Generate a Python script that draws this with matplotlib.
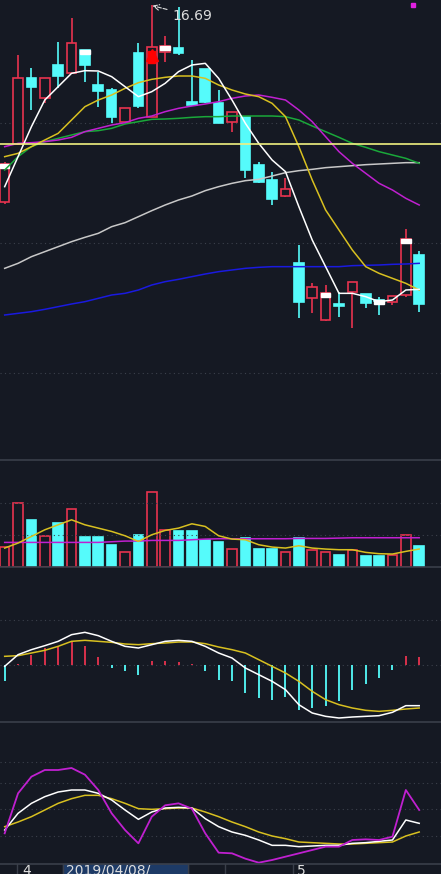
import numpy as np
import matplotlib.pyplot as plt
from matplotlib.patches import Rectangle

# 读数：价格区以屏幕刻度读出，再换算为价格
def to_price(v):
    return 16.74 - np.asarray(v, dtype=float) / 300

# 开 高 低 收 (读数)
opens  = [605, 432, 235, 295, 195, 218, 150, 255, 270, 365, 158, 350, 155, 145, 305, 208, 310, 365, 350, 495, 540, 588, 788, 893, 960, 912, 875, 883, 900, 905, 885, 765]
highs  = [485, 165, 205, 235, 125, 55, 150, 215, 265, 325, 130, 15, 108, 20, 180, 208, 270, 335, 350, 485, 515, 535, 735, 848, 855, 875, 845, 883, 890, 888, 688, 752]
lows   = [612, 435, 330, 308, 265, 220, 245, 320, 370, 370, 325, 352, 185, 165, 318, 310, 370, 395, 535, 548, 615, 590, 955, 940, 962, 950, 985, 925, 945, 915, 892, 935]
closes = [492, 235, 260, 235, 228, 130, 195, 272, 350, 325, 318, 140, 138, 160, 315, 305, 368, 335, 510, 545, 598, 568, 905, 860, 880, 918, 845, 910, 903, 888, 718, 912]
white_caps = [0, 6, 12, 24, 28, 30]

ma5   = [560, 470, 380, 300, 260, 220, 212, 213, 230, 260, 290, 275, 250, 215, 195, 190, 235, 300, 370, 430, 480, 515, 620, 720, 800, 880, 880, 890, 905, 900, 870, 868]
ma10  = [470, 460, 440, 420, 400, 360, 320, 300, 285, 265, 248, 238, 232, 228, 228, 235, 255, 270, 282, 290, 310, 350, 440, 540, 630, 690, 750, 800, 820, 835, 850, 870]
ma20  = [440, 430, 428, 425, 420, 412, 395, 385, 375, 368, 355, 348, 335, 325, 318, 312, 305, 295, 288, 285, 292, 300, 330, 365, 410, 455, 490, 520, 550, 570, 595, 615]
ma30  = [510, 470, 440, 425, 415, 405, 395, 392, 385, 372, 365, 358, 357, 355, 352, 350, 350, 348, 348, 348, 348, 350, 360, 378, 395, 412, 430, 442, 455, 465, 475, 490]
ma60  = [805, 790, 770, 755, 740, 725, 712, 700, 680, 668, 650, 632, 615, 600, 588, 572, 560, 550, 542, 538, 528, 518, 512, 508, 503, 500, 497, 494, 492, 490, 488, 488]
ma120 = [945, 940, 935, 928, 920, 912, 905, 895, 885, 880, 870, 855, 845, 838, 830, 822, 815, 810, 805, 802, 800, 800, 800, 800, 800, 800, 797, 796, 795, 793, 792, 790]
level = 433

volume = [60, 194, 140, 94, 132, 175, 90, 90, 67, 45, 95, 225, 112, 109, 109, 82, 74, 54, 87, 54, 54, 45, 87, 50, 45, 35, 50, 32, 32, 35, 97, 62]
vol_ma1 = [57, 72, 92, 112, 127, 142, 127, 117, 107, 94, 77, 97, 110, 117, 130, 122, 94, 84, 82, 67, 60, 57, 64, 57, 54, 52, 52, 44, 40, 39, 47, 54]
vol_ma2 = [74, 74, 74, 74, 74, 74, 74, 74, 76, 78, 78, 80, 80, 80, 82, 84, 85, 85, 85, 85, 85, 85, 86, 86, 86, 87, 88, 88, 88, 88, 88, 88]

dif  = [-3, 32, 47, 59, 72, 92, 99, 89, 72, 57, 52, 62, 72, 75, 72, 57, 37, 22, -8, -28, -48, -73, -118, -143, -153, -158, -155, -153, -151, -141, -121, -121]
dea  = [27, 29, 37, 45, 57, 72, 75, 72, 69, 64, 62, 65, 67, 70, 70, 65, 55, 47, 37, 17, -3, -23, -48, -78, -103, -118, -128, -135, -138, -135, -131, -128]
macd = [-48, 5, 32, 52, 57, 69, 59, 25, -8, -18, -28, 12, 12, 9, 3, -18, -43, -48, -83, -98, -103, -95, -135, -128, -123, -108, -73, -55, -38, -15, 29, 25]

k = [25.5, 38, 45.5, 50.5, 54, 55.5, 55.5, 53, 48, 40.5, 33.5, 39, 42, 42.5, 42, 34, 28, 24, 21.5, 18, 14, 14, 13, 13.5, 14, 14, 15.5, 16, 17, 18, 33, 30.5]
d = [28, 31.5, 35.5, 40.5, 45.5, 49, 51.5, 51.5, 49, 45.5, 41.5, 41, 41.5, 42, 42, 39, 35.5, 31.5, 28, 24, 21, 19, 16.5, 16, 15.5, 15, 15, 15.5, 16, 16.5, 21, 24]
j = [23, 53, 65.5, 70.5, 70.5, 72, 67, 55.5, 38, 25.5, 15.5, 35.5, 44, 45.5, 41.5, 23, 8.5, 8, 4, 1, 3, 5.5, 8, 10.5, 13, 13, 18, 18.5, 18, 20.5, 55.5, 40.5]

bg = '#151923'
red = '#e8334f'
cyan = '#55fbfb'
sep = '#3a3f4a'
W, H = 441, 874
x = np.arange(len(opens))
xlim = (-0.35, 32.63)

fig = plt.figure(figsize=(W / 100, H / 100), dpi=100, facecolor=bg)

def panel(top, bottom):
    ax = fig.add_axes([0, 1 - bottom / H, 1, (bottom - top) / H])
    ax.set_facecolor(bg)
    ax.set_xlim(*xlim)
    ax.axis('off')
    return ax

def dotted(ax, vals):
    for v in vals:
        ax.axhline(v, color='#3c414c', lw=0.8, ls=(0, (1, 3)))

# 主图
ax = panel(0, 460)
ax.set_ylim(to_price(1380), to_price(0))
dotted(ax, to_price([368, 728, 1120]))
o, h, l, c = map(to_price, (opens, highs, lows, closes))
for i in x:
    up = c[i] >= o[i]
    col = red if up else cyan
    lo_b, hi_b = min(o[i], c[i]), max(o[i], c[i])
    ax.vlines(i, l[i], lo_b, color=col, lw=1.2)
    ax.vlines(i, hi_b, h[i], color=col, lw=1.2)
    ax.add_patch(Rectangle((i - 0.36, lo_b), 0.72, max(hi_b - lo_b, 0.006),
                           facecolor=bg if up else col, edgecolor=col, lw=1.2, zorder=3))
for i in white_caps:
    top = max(o[i], c[i])
    ax.add_patch(Rectangle((i - 0.36, top - 0.035), 0.72, 0.035, color='white', zorder=4))
ax.plot(11, to_price(165), marker='^', color='red', ms=8, zorder=5)
ax.add_patch(Rectangle((10.75, to_price(190)), 0.5, 0.12, color='red', zorder=5))
for vals, col in [(ma120, '#1a1ae0'), (ma60, '#c8c8c8'), (ma30, '#1aa83a'),
                  (ma20, '#c020d0'), (ma10, '#d8c020'), (ma5, 'white')]:
    ax.plot(x, to_price(vals), color=col, lw=1.1, zorder=6)
ax.axhline(to_price(level), color='#f0f080', lw=1.2, zorder=7)
ax.annotate('16.69', xy=(10.85, to_price(15)), xytext=(12.55, to_price(48)),
            color='#dddddd', fontsize=10, va='center',
            arrowprops=dict(arrowstyle='->', color='#dddddd', lw=0.8, ls='--'))
ax.plot(30.5, to_price(15), marker='s', color='#e020e0', ms=3)

# 成交量
ax = panel(460, 567)
ax.set_ylim(0, 322)
dotted(ax, [194, 97])
for i in x:
    up = closes[i] <= opens[i]
    col = red if up else cyan
    ax.add_patch(Rectangle((i - 0.36, 0), 0.72, volume[i],
                           facecolor=bg if up else col, edgecolor=col, lw=1.2))
ax.plot(x, vol_ma2, color='#c020d0', lw=1.1)
ax.plot(x, vol_ma1, color='#d8c020', lw=1.1)

# MACD
ax = panel(567, 722)
ax.set_ylim(-170, 295)
dotted(ax, [135, 0])
ax.vlines(x, 0, macd, colors=[red if m > 0 else cyan for m in macd], lw=1.3)
ax.plot(x, dea, color='#d8c020', lw=1.1)
ax.plot(x, dif, color='white', lw=1.1)

# KDJ
ax = panel(722, 864)
ax.set_ylim(0, 106.5)
dotted(ax, [76.75, 60.5, 41, 21])
ax.plot(x, d, color='#d8c020', lw=1.1)
ax.plot(x, k, color='white', lw=1.1)
ax.plot(x, j, color='#c020d0', lw=1.3)

# 分隔线与底部日期条
for yy in [460, 567, 722, 864]:
    fig.add_artist(plt.Line2D([0, 1], [1 - yy / H] * 2, color=sep, lw=1.2))
fig.add_artist(Rectangle((63 / W, 0), 125 / W, 10 / H, color='#1d3a66'))
for xx in [17, 63, 188, 225, 293]:
    fig.add_artist(plt.Line2D([xx / W] * 2, [0, 10 / H], color=sep, lw=1))
for xx, t in [(22, '4'), (66, '2019/04/08/'), (297, '5')]:
    fig.text(xx / W, -4 / H, t, color='#dddddd', fontsize=10, va='bottom')

fig.savefig('out.png', dpi=100, facecolor=bg)
